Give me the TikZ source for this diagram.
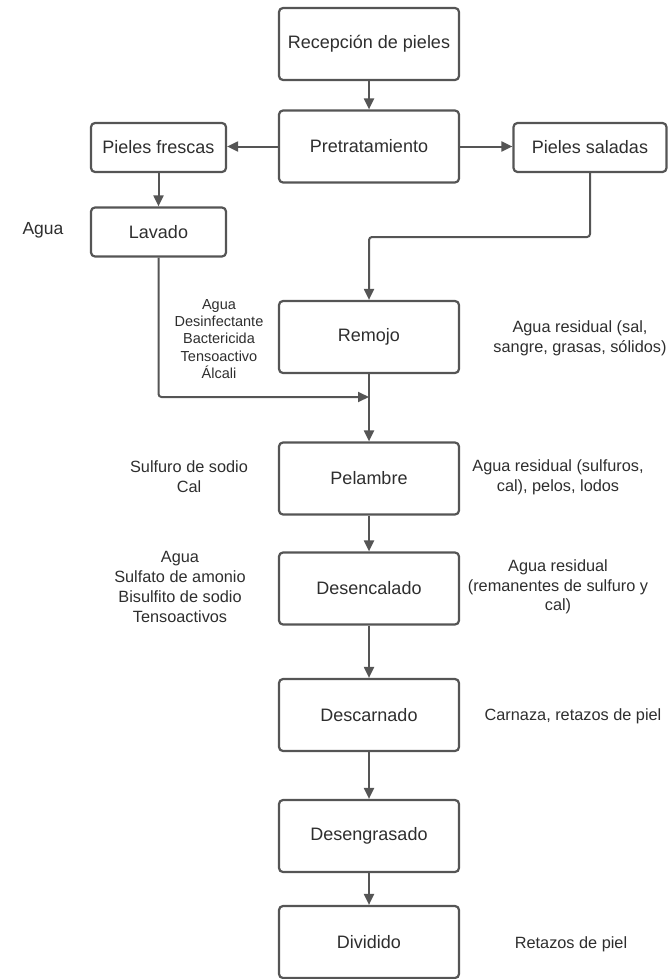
\documentclass[tikz,border=0pt]{standalone}
\usepackage{fontspec}
\setmainfont{Liberation Sans}
\usetikzlibrary{arrows.meta}
\definecolor{linec}{HTML}{555555}
\definecolor{txt}{HTML}{2E2E2E}
\begin{document}
\begin{tikzpicture}[x=1pt,y=-1pt,
 procbox/.style={draw=linec, line width=2.2pt, rounded corners=4pt, minimum width=180pt, minimum height=72pt, inner sep=0pt, text=txt, font=\fontsize{18}{21}\selectfont},
 smallbox/.style={procbox, minimum width=135pt, minimum height=49pt},
 sidelbl/.style={text=txt, align=center, inner sep=0pt, font=\fontsize{16.3}{19.7}\selectfont},
 inlbl/.style={text=txt, align=center, inner sep=0pt, font=\fontsize{14.5}{17.4}\selectfont},
 flow/.style={draw=linec, line width=2pt, -{Triangle[length=11pt,width=10pt]}, rounded corners=3pt}]
\useasboundingbox (0,0) rectangle (670,979);

\node[procbox] (rec) at (369,44) {Recepción de pieles};
\node[procbox] (pre) at (369,146.5) {Pretratamiento};
\node[smallbox] (fre) at (158.5,147.5) {Pieles frescas};
\node[smallbox, minimum width=153pt] (sal) at (590,147.5) {Pieles saladas};
\node[smallbox] (lav) at (158.5,232) {Lavado};
\node[procbox] (rem) at (369,337) {Remojo};
\node[procbox] (pel) at (369,478.5) {Pelambre};
\node[procbox] (desc) at (369,588.5) {Desencalado};
\node[procbox] (dcar) at (369,715) {Descarnado};
\node[procbox] (dgra) at (369,836) {Desengrasado};
\node[procbox] (div) at (369,942) {Dividido};

\coordinate (j1) at (369,237);
\coordinate (j2) at (369,397);

\draw[flow] (rec) -- (pre);
\draw[flow] (pre.west) -- (pre.west -| fre.east);
\draw[flow] (pre.east) -- (pre.east -| sal.west);
\draw[flow] (fre) -- (lav);
\draw[flow] (sal.south) |- (j1) -- (rem.north);
\draw[flow] (lav.south) |- (j2);
\draw[flow] (rem) -- (pel);
\draw[flow] (pel) -- (desc);
\draw[flow] (desc) -- (dcar);
\draw[flow] (dcar) -- (dgra);
\draw[flow] (dgra) -- (div);

\node[sidelbl, font=\fontsize{17.5}{20}\selectfont] (lagua) at (43,230) {Agua};
\node[inlbl] (lrem) at (219,339) {Agua\\Desinfectante\\Bactericida\\Tensoactivo\\Álcali};
\node[sidelbl] (rrem) at (580,338.5) {Agua residual (sal,\\sangre, grasas, sólidos)};
\node[sidelbl] (lpel) at (189,477) {Sulfuro de sodio\\Cal};
\node[sidelbl] (rpel) at (558,477) {Agua residual (sulfuros,\\cal), pelos, lodos};
\node[sidelbl] (ldes) at (180,587) {Agua\\Sulfato de amonio\\Bisulfito de sodio\\Tensoactivos};
\node[sidelbl] (rdes) at (558,587) {Agua residual\\(remanentes de sulfuro y\\cal)};
\node[sidelbl] (rcar) at (573,716) {Carnaza, retazos de piel};
\node[sidelbl] (rdiv) at (571,944) {Retazos de piel};
\end{tikzpicture}
\end{document}
